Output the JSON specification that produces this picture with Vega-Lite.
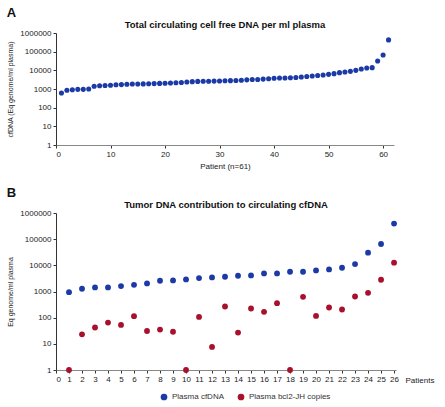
{
  "$schema": "https://vega.github.io/schema/vega-lite/v6.json",
  "padding": {"left": 6, "top": 6, "right": 4, "bottom": 2},
  "config": {
    "font": "Liberation Sans",
    "view": {"stroke": null},
    "axis": {
      "grid": false,
      "labelFontSize": 8,
      "labelColor": "#222",
      "titleFontSize": 7,
      "titleFontWeight": "normal",
      "titleFont": "Liberation Sans",
      "titleColor": "#222",
      "domainColor": "#333",
      "tickColor": "#333",
      "tickSize": 3
    }
  },
  "datasets": {
    "total": [
      {"patient": 1, "cfDNA": 610}, {"patient": 2, "cfDNA": 850}, {"patient": 3, "cfDNA": 920},
      {"patient": 4, "cfDNA": 960}, {"patient": 5, "cfDNA": 960}, {"patient": 6, "cfDNA": 1000},
      {"patient": 7, "cfDNA": 1400}, {"patient": 8, "cfDNA": 1500}, {"patient": 9, "cfDNA": 1550},
      {"patient": 10, "cfDNA": 1580}, {"patient": 11, "cfDNA": 1680}, {"patient": 12, "cfDNA": 1720},
      {"patient": 13, "cfDNA": 1800}, {"patient": 14, "cfDNA": 1850}, {"patient": 15, "cfDNA": 1860},
      {"patient": 16, "cfDNA": 1880}, {"patient": 17, "cfDNA": 1920}, {"patient": 18, "cfDNA": 1950},
      {"patient": 19, "cfDNA": 2000}, {"patient": 20, "cfDNA": 2020}, {"patient": 21, "cfDNA": 2100},
      {"patient": 22, "cfDNA": 2150}, {"patient": 23, "cfDNA": 2250}, {"patient": 24, "cfDNA": 2350},
      {"patient": 25, "cfDNA": 2480}, {"patient": 26, "cfDNA": 2550}, {"patient": 27, "cfDNA": 2600},
      {"patient": 28, "cfDNA": 2620}, {"patient": 29, "cfDNA": 2650}, {"patient": 30, "cfDNA": 2690},
      {"patient": 31, "cfDNA": 2750}, {"patient": 32, "cfDNA": 2800}, {"patient": 33, "cfDNA": 2850},
      {"patient": 34, "cfDNA": 2950}, {"patient": 35, "cfDNA": 3100}, {"patient": 36, "cfDNA": 3200},
      {"patient": 37, "cfDNA": 3250}, {"patient": 38, "cfDNA": 3400}, {"patient": 39, "cfDNA": 3550},
      {"patient": 40, "cfDNA": 3800}, {"patient": 41, "cfDNA": 3850}, {"patient": 42, "cfDNA": 3900},
      {"patient": 43, "cfDNA": 4000}, {"patient": 44, "cfDNA": 4150}, {"patient": 45, "cfDNA": 4390},
      {"patient": 46, "cfDNA": 4650}, {"patient": 47, "cfDNA": 4940}, {"patient": 48, "cfDNA": 5250},
      {"patient": 49, "cfDNA": 5580}, {"patient": 50, "cfDNA": 6100}, {"patient": 51, "cfDNA": 6630},
      {"patient": 52, "cfDNA": 7520}, {"patient": 53, "cfDNA": 8100}, {"patient": 54, "cfDNA": 8840},
      {"patient": 55, "cfDNA": 10000}, {"patient": 56, "cfDNA": 11800}, {"patient": 57, "cfDNA": 13300},
      {"patient": 58, "cfDNA": 13900}, {"patient": 59, "cfDNA": 31600}, {"patient": 60, "cfDNA": 66000},
      {"patient": 61, "cfDNA": 427000}
    ],
    "tumor": [
      {"patient": 1, "series": "Plasma cfDNA", "value": 946},
      {"patient": 2, "series": "Plasma cfDNA", "value": 1270},
      {"patient": 3, "series": "Plasma cfDNA", "value": 1430},
      {"patient": 4, "series": "Plasma cfDNA", "value": 1430},
      {"patient": 5, "series": "Plasma cfDNA", "value": 1610},
      {"patient": 6, "series": "Plasma cfDNA", "value": 1800},
      {"patient": 7, "series": "Plasma cfDNA", "value": 2030},
      {"patient": 8, "series": "Plasma cfDNA", "value": 2570},
      {"patient": 9, "series": "Plasma cfDNA", "value": 2650},
      {"patient": 10, "series": "Plasma cfDNA", "value": 2890},
      {"patient": 11, "series": "Plasma cfDNA", "value": 3250},
      {"patient": 12, "series": "Plasma cfDNA", "value": 3450},
      {"patient": 13, "series": "Plasma cfDNA", "value": 3660},
      {"patient": 14, "series": "Plasma cfDNA", "value": 4000},
      {"patient": 15, "series": "Plasma cfDNA", "value": 4120},
      {"patient": 16, "series": "Plasma cfDNA", "value": 4910},
      {"patient": 17, "series": "Plasma cfDNA", "value": 4910},
      {"patient": 18, "series": "Plasma cfDNA", "value": 5690},
      {"patient": 19, "series": "Plasma cfDNA", "value": 5690},
      {"patient": 20, "series": "Plasma cfDNA", "value": 6390},
      {"patient": 21, "series": "Plasma cfDNA", "value": 6990},
      {"patient": 22, "series": "Plasma cfDNA", "value": 8090},
      {"patient": 23, "series": "Plasma cfDNA", "value": 11200},
      {"patient": 24, "series": "Plasma cfDNA", "value": 30400},
      {"patient": 25, "series": "Plasma cfDNA", "value": 65300},
      {"patient": 26, "series": "Plasma cfDNA", "value": 393000},
      {"patient": 1, "series": "Plasma bcl2-JH copies", "value": 1},
      {"patient": 2, "series": "Plasma bcl2-JH copies", "value": 23},
      {"patient": 3, "series": "Plasma bcl2-JH copies", "value": 42},
      {"patient": 4, "series": "Plasma bcl2-JH copies", "value": 65},
      {"patient": 5, "series": "Plasma bcl2-JH copies", "value": 53},
      {"patient": 6, "series": "Plasma bcl2-JH copies", "value": 114},
      {"patient": 7, "series": "Plasma bcl2-JH copies", "value": 31},
      {"patient": 8, "series": "Plasma bcl2-JH copies", "value": 35},
      {"patient": 9, "series": "Plasma bcl2-JH copies", "value": 29},
      {"patient": 10, "series": "Plasma bcl2-JH copies", "value": 1},
      {"patient": 11, "series": "Plasma bcl2-JH copies", "value": 107},
      {"patient": 12, "series": "Plasma bcl2-JH copies", "value": 7.6},
      {"patient": 13, "series": "Plasma bcl2-JH copies", "value": 267},
      {"patient": 14, "series": "Plasma bcl2-JH copies", "value": 27},
      {"patient": 15, "series": "Plasma bcl2-JH copies", "value": 224},
      {"patient": 16, "series": "Plasma bcl2-JH copies", "value": 167},
      {"patient": 17, "series": "Plasma bcl2-JH copies", "value": 358},
      {"patient": 18, "series": "Plasma bcl2-JH copies", "value": 1},
      {"patient": 19, "series": "Plasma bcl2-JH copies", "value": 626},
      {"patient": 20, "series": "Plasma bcl2-JH copies", "value": 117},
      {"patient": 21, "series": "Plasma bcl2-JH copies", "value": 245},
      {"patient": 22, "series": "Plasma bcl2-JH copies", "value": 205},
      {"patient": 23, "series": "Plasma bcl2-JH copies", "value": 645},
      {"patient": 24, "series": "Plasma bcl2-JH copies", "value": 890},
      {"patient": 25, "series": "Plasma bcl2-JH copies", "value": 2810},
      {"patient": 26, "series": "Plasma bcl2-JH copies", "value": 12600}
    ]
  },
  "spacing": 16,
  "vconcat": [
    {
      "title": {"text": "A", "anchor": "start", "frame": "bounds", "fontSize": 13, "fontWeight": "bold", "color": "#111", "offset": 0},
      "vconcat": [
        {
          "width": 338,
          "height": 112,
          "title": {"text": "Total circulating cell free DNA per ml plasma", "fontSize": 9.5, "fontWeight": "bold", "color": "#111", "anchor": "middle", "offset": 0},
          "data": {"name": "total"},
          "mark": {"type": "circle", "size": 26, "opacity": 1, "color": "#1c3aa6"},
          "encoding": {
            "x": {
              "field": "patient", "type": "quantitative",
              "scale": {"domain": [0, 62], "nice": false, "zero": true},
              "axis": {"values": [0, 10, 20, 30, 40, 50, 60], "title": "Patient (n=61)", "titleFontSize": 8, "titlePadding": 4, "domainColor": "#888"}
            },
            "y": {
              "field": "cfDNA", "type": "quantitative",
              "scale": {"type": "log", "domain": [1, 1000000], "nice": false},
              "axis": {"values": [1, 10, 100, 1000, 10000, 100000, 1000000], "format": "d", "title": "cfDNA (Eq genome/ml plasma)", "titlePadding": 6}
            }
          }
        }
      ]
    },
    {
      "title": {"text": "B", "anchor": "start", "frame": "bounds", "fontSize": 13, "fontWeight": "bold", "color": "#111", "offset": 0},
      "resolve": {"legend": {"color": "independent"}, "scale": {"color": "independent"}},
      "vconcat": [
        {
          "width": 340,
          "height": 157,
          "title": {"text": "Tumor DNA contribution to circulating cfDNA", "fontSize": 9.5, "fontWeight": "bold", "color": "#111", "anchor": "middle", "offset": 0},
          "data": {"name": "tumor"},
          "mark": {"type": "circle", "size": 34, "opacity": 1},
          "encoding": {
            "x": {
              "field": "patient", "type": "quantitative",
              "scale": {"domain": [0, 26.15], "nice": false, "zero": true},
              "axis": {
                "values": [0, 1, 2, 3, 4, 5, 6, 7, 8, 9, 10, 11, 12, 13, 14, 15, 16, 17, 18, 19, 20, 21, 22, 23, 24, 25, 26],
                "title": "Patients", "titleFont": "Liberation Sans", "titleFontSize": 8,
                "titleAnchor": "start", "titleAlign": "left", "titleBaseline": "middle",
                "titleX": 349, "titleY": 10.5, "domainColor": "#888"
              }
            },
            "y": {
              "field": "value", "type": "quantitative",
              "scale": {"type": "log", "domain": [1, 1000000], "nice": false},
              "axis": {"values": [1, 10, 100, 1000, 10000, 100000, 1000000], "format": "d", "title": "Eq genome/ml plasma", "titlePadding": 6}
            },
            "color": {
              "field": "series", "type": "nominal",
              "scale": {"domain": ["Plasma cfDNA", "Plasma bcl2-JH copies"], "range": ["#1c3aa6", "#a8102c"]},
              "legend": {
                "orient": "none", "legendX": 104, "legendY": 180, "direction": "horizontal", "title": null,
                "labelFontSize": 8, "labelColor": "#333", "symbolType": "circle", "symbolSize": 45,
                "symbolStrokeWidth": 0, "columnPadding": 12
              }
            }
          }
        }
      ]
    }
  ]
}
